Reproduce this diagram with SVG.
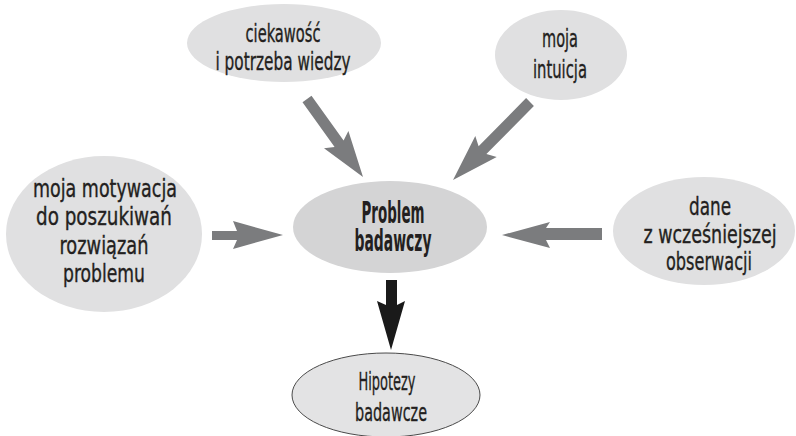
<svg xmlns="http://www.w3.org/2000/svg" width="796" height="436" viewBox="0 0 796 436">
<style>
.bub{fill:#e0e0e1;}
.core{fill:#d4d4d5;}
.out{fill:#e3e3e4;stroke:#4a4a4a;stroke-width:1;}
.arr{fill:#7b7c7e;}
.dark{fill:#1a1a1a;}
text{font-family:"DejaVu Sans Condensed","DejaVu Sans","Liberation Sans",sans-serif;font-stretch:condensed;fill:#231f20;stroke:#231f20;stroke-width:0.35;text-anchor:middle;font-size:24px;}
.b{font-weight:bold;font-size:30px;stroke-width:0;}
.h{font-size:25px;}
</style>
<rect width="796" height="436" fill="#ffffff"/>
<g id="n-ciekawosc">
<ellipse class="bub" cx="284" cy="43" rx="97" ry="39"/>
<text x="283" y="42" textLength="75" lengthAdjust="spacingAndGlyphs">ciekawość</text>
<text x="283" y="70" textLength="135" lengthAdjust="spacingAndGlyphs">i potrzeba wiedzy</text>
</g>
<g id="n-intuicja">
<ellipse class="bub" cx="561" cy="55" rx="66" ry="45"/>
<text x="560" y="47" textLength="36" lengthAdjust="spacingAndGlyphs">moja</text>
<text x="560" y="78" textLength="54" lengthAdjust="spacingAndGlyphs">intuicja</text>
</g>
<g id="n-motywacja">
<ellipse class="bub" cx="104" cy="234" rx="98" ry="78"/>
<text x="105" y="197" textLength="144" lengthAdjust="spacingAndGlyphs">moja motywacja</text>
<text x="104" y="225" textLength="136" lengthAdjust="spacingAndGlyphs">do poszukiwań</text>
<text x="104" y="254" textLength="89" lengthAdjust="spacingAndGlyphs">rozwiązań</text>
<text x="104" y="282" textLength="82" lengthAdjust="spacingAndGlyphs">problemu</text>
</g>
<g id="n-problem">
<ellipse class="core" cx="390" cy="227" rx="97" ry="46"/>
<text class="b" x="393" y="223" textLength="63" lengthAdjust="spacingAndGlyphs">Problem</text>
<text class="b" x="393" y="251" textLength="77" lengthAdjust="spacingAndGlyphs">badawczy</text>
</g>
<g id="n-dane">
<ellipse class="bub" cx="704" cy="231" rx="91" ry="54"/>
<text x="710" y="215" textLength="42" lengthAdjust="spacingAndGlyphs">dane</text>
<text x="710" y="243" textLength="133" lengthAdjust="spacingAndGlyphs">z wcześniejszej</text>
<text x="709" y="270" textLength="86" lengthAdjust="spacingAndGlyphs">obserwacji</text>
</g>
<g id="n-hipotezy">
<ellipse class="out" cx="386" cy="395" rx="94" ry="42"/>
<text class="h" x="387" y="390" textLength="57" lengthAdjust="spacingAndGlyphs">Hipotezy</text>
<text class="h" x="391" y="421" textLength="72" lengthAdjust="spacingAndGlyphs">badawcze</text>
</g>
<g id="connectors">
<polygon class="arr" points="311.5,95.8 343.6,140.5 348.4,130.9 363,177 324,148.3 334.6,146.9 302.5,102.2"/>
<polygon class="arr" points="533.9,105.9 486.4,154.1 496.7,157.1 453,180 475.3,136.1 478.6,146.3 526.1,98.1"/>
<polygon class="arr" points="212,231 237,231 233,221 283,235 233,249 237,240 212,240"/>
<polygon class="arr" points="602,228 546,228 550,222 502,235 550,248 546,240 602,240"/>
<polygon class="dark" points="386,280 397,280 397,305 405,301 391,350 377,301 386,305"/>
</g>
</svg>
